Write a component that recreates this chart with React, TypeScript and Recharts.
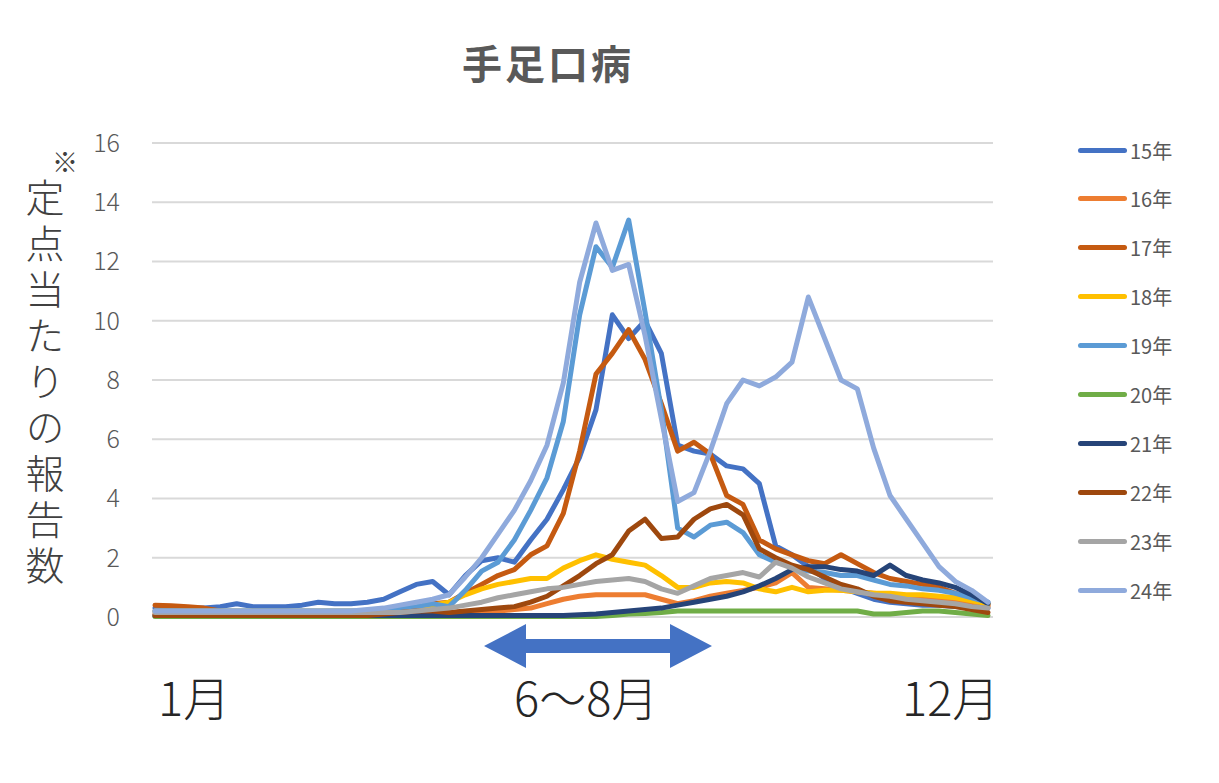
import React from "react";
import { CartesianGrid, Line, LineChart, XAxis, YAxis } from "recharts";

// weekly reports per sentinel site, 52 weeks each
const s15 = [0.3, 0.3, 0.3, 0.3, 0.35, 0.45, 0.35, 0.35, 0.35, 0.4, 0.5, 0.45, 0.45, 0.5, 0.6, 0.85, 1.1, 1.2, 0.75, 1.4, 1.9, 2.0, 1.85, 2.6, 3.3, 4.3, 5.4, 7.0, 10.2, 9.4, 10.0, 8.9, 5.8, 5.6, 5.5, 5.1, 5.0, 4.5, 2.4, 2.1, 1.7, 1.3, 1.0, 0.8, 0.6, 0.5, 0.45, 0.4, 0.4, 0.35, 0.3, 0.3];
const s16 = [0.1, 0.1, 0.1, 0.1, 0.1, 0.1, 0.1, 0.1, 0.1, 0.1, 0.1, 0.1, 0.1, 0.1, 0.1, 0.15, 0.15, 0.15, 0.15, 0.15, 0.2, 0.2, 0.25, 0.3, 0.45, 0.6, 0.7, 0.75, 0.75, 0.75, 0.75, 0.6, 0.45, 0.55, 0.7, 0.8, 0.9, 1.0, 1.15, 1.5, 1.0, 0.95, 0.9, 0.85, 0.8, 0.75, 0.7, 0.65, 0.6, 0.55, 0.45, 0.35];
const s17 = [0.4, 0.38, 0.35, 0.3, 0.2, 0.15, 0.15, 0.15, 0.15, 0.15, 0.15, 0.15, 0.15, 0.1, 0.15, 0.2, 0.3, 0.45, 0.5, 0.8, 1.1, 1.4, 1.6, 2.1, 2.4, 3.5, 5.6, 8.2, 8.9, 9.7, 8.7, 7.2, 5.6, 5.9, 5.5, 4.1, 3.8, 2.6, 2.3, 2.1, 1.9, 1.8, 2.1, 1.8, 1.5, 1.3, 1.2, 1.1, 1.0, 0.8, 0.6, 0.4];
const s18 = [0.2, 0.2, 0.2, 0.2, 0.2, 0.2, 0.2, 0.2, 0.2, 0.2, 0.2, 0.2, 0.2, 0.2, 0.2, 0.25, 0.3, 0.4, 0.5, 0.75, 0.95, 1.1, 1.2, 1.3, 1.3, 1.65, 1.9, 2.1, 1.95, 1.85, 1.75, 1.4, 1.0, 1.0, 1.15, 1.2, 1.15, 0.95, 0.85, 1.0, 0.85, 0.9, 0.9, 0.85, 0.8, 0.8, 0.75, 0.75, 0.7, 0.65, 0.55, 0.45];
const s19 = [0.2, 0.2, 0.2, 0.2, 0.2, 0.2, 0.2, 0.2, 0.2, 0.2, 0.2, 0.2, 0.2, 0.2, 0.25, 0.3, 0.35, 0.45, 0.35, 0.9, 1.55, 1.85, 2.6, 3.6, 4.7, 6.6, 10.2, 12.5, 11.8, 13.4, 10.3, 7.0, 3.0, 2.7, 3.1, 3.2, 2.85, 2.1, 1.85, 1.7, 1.55, 1.5, 1.4, 1.4, 1.25, 1.1, 1.05, 0.95, 0.9, 0.8, 0.65, 0.5];
const s20 = [0.02, 0.02, 0.02, 0.02, 0.02, 0.02, 0.02, 0.02, 0.02, 0.02, 0.02, 0.02, 0.02, 0.02, 0.02, 0.02, 0.02, 0.02, 0.02, 0.02, 0.02, 0.02, 0.02, 0.02, 0.02, 0.02, 0.02, 0.02, 0.05, 0.1, 0.12, 0.15, 0.2, 0.2, 0.2, 0.2, 0.2, 0.2, 0.2, 0.2, 0.2, 0.2, 0.2, 0.2, 0.1, 0.1, 0.15, 0.2, 0.2, 0.15, 0.1, 0.05];
const s21 = [0.05, 0.05, 0.05, 0.05, 0.05, 0.05, 0.05, 0.05, 0.05, 0.05, 0.05, 0.05, 0.05, 0.05, 0.05, 0.05, 0.05, 0.05, 0.05, 0.05, 0.05, 0.05, 0.05, 0.05, 0.05, 0.05, 0.08, 0.1, 0.15, 0.2, 0.25, 0.3, 0.4, 0.5, 0.6, 0.7, 0.85, 1.05, 1.3, 1.6, 1.7, 1.7, 1.6, 1.55, 1.4, 1.75, 1.4, 1.25, 1.15, 1.0, 0.75, 0.45];
const s22 = [0.05, 0.05, 0.05, 0.05, 0.05, 0.05, 0.05, 0.05, 0.05, 0.05, 0.05, 0.05, 0.05, 0.05, 0.1, 0.15, 0.2, 0.2, 0.15, 0.2, 0.25, 0.3, 0.35, 0.5, 0.7, 1.05, 1.4, 1.8, 2.1, 2.9, 3.3, 2.65, 2.7, 3.3, 3.65, 3.8, 3.45, 2.3, 2.0, 1.75, 1.6, 1.35, 1.1, 0.95, 0.7, 0.55, 0.5, 0.45, 0.4, 0.35, 0.25, 0.15];
const s23 = [0.15, 0.15, 0.15, 0.15, 0.15, 0.15, 0.15, 0.15, 0.15, 0.15, 0.15, 0.15, 0.15, 0.15, 0.15, 0.15, 0.2, 0.25, 0.3, 0.4, 0.5, 0.65, 0.75, 0.85, 0.95, 1.0, 1.1, 1.2, 1.25, 1.3, 1.2, 0.95, 0.8, 1.05, 1.3, 1.4, 1.5, 1.35, 1.85, 1.65, 1.35, 1.15, 0.95, 0.85, 0.75, 0.7, 0.6, 0.55, 0.5, 0.45, 0.35, 0.3];
const s24 = [0.2, 0.2, 0.2, 0.2, 0.2, 0.2, 0.2, 0.2, 0.2, 0.2, 0.2, 0.2, 0.2, 0.25, 0.3, 0.4, 0.5, 0.6, 0.75, 1.35, 2.0, 2.8, 3.6, 4.6, 5.8, 7.9, 11.3, 13.3, 11.7, 11.9, 9.5, 6.7, 3.9, 4.2, 5.6, 7.2, 8.0, 7.8, 8.1, 8.6, 10.8, 9.4, 8.0, 7.7, 5.7, 4.1, 3.3, 2.5, 1.7, 1.2, 0.9, 0.5];

const seriesNames = ["15年", "16年", "17年", "18年", "19年", "20年", "21年", "22年", "23年", "24年"];
const seriesValues = [s15, s16, s17, s18, s19, s20, s21, s22, s23, s24];
const colors = ["#4472C4", "#ED7D31", "#C55A11", "#FFC000", "#5B9BD5", "#70AD47", "#264478", "#9E480E", "#A5A5A5", "#8FAADC"];
const yTicks = [0, 2, 4, 6, 8, 10, 12, 14, 16];
const monthLabels = ["1月", "6〜8月", "12月"];

const data = s15.map((_, i) => {
  const row: Record<string, number> = { week: i };
  seriesNames.forEach((name, k) => {
    row[name] = seriesValues[k][i];
  });
  return row;
});

const jp = '"Noto Sans CJK JP", "Noto Sans", sans-serif';
const gray = "#595959";

export default function App() {
  return (
    <div style={{ position: "absolute", left: 0, top: 0, width: 1219, height: 783, background: "#fff", fontFamily: jp }}>
      <LineChart
        width={1219}
        height={783}
        data={data}
        margin={{ top: 143, right: 226, bottom: 166, left: 92 }}
      >
        <CartesianGrid vertical={false} stroke="#d9d9d9" strokeWidth={2} />
        <XAxis dataKey="week" type="number" domain={[0, 51]} hide padding={{ left: 3, right: 5 }} />
        <YAxis
          domain={[0, 16]}
          ticks={yTicks}
          width={60}
          axisLine={false}
          tickLine={false}
          tickSize={0}
          tickMargin={32}
          tick={{ fill: gray, fontSize: 25, fontFamily: jp, fontWeight: 300 }}
          interval={0}
        />
        {seriesNames.map((name, k) => (
          <Line
            key={name}
            dataKey={name}
            stroke={colors[k]}
            strokeWidth={5}
            dot={false}
            isAnimationActive={false}
            strokeLinejoin="round"
            strokeLinecap="round"
          />
        ))}
      </LineChart>

      <div style={{ position: "absolute", left: 348, width: 400, top: 34, textAlign: "center", fontSize: 40, fontWeight: 700, color: gray, letterSpacing: 3, lineHeight: "56px" }}>
        手足口病
      </div>

      <div style={{ position: "absolute", left: 52, top: 146, fontSize: 26, color: "#404040", lineHeight: "30px", fontWeight: 300 }}>※</div>
      <div style={{ position: "absolute", left: 23, top: 178, writingMode: "vertical-rl", fontSize: 39, letterSpacing: 7, color: "#404040", lineHeight: "44px", fontWeight: 300 }}>
        定点当たりの報告数
      </div>

      <svg style={{ position: "absolute", left: 0, top: 0 }} width={1219} height={783}>
        <polygon points="484,646 526,624 526,639 670,639 670,624 712,646 670,668 670,653 526,653 526,668" fill="#4472C4" />
      </svg>

      <div style={{ position: "absolute", left: 158, top: 664, fontSize: 47, color: "#262626", lineHeight: "64px", fontWeight: 300 }}>{monthLabels[0]}</div>
      <div style={{ position: "absolute", left: 514, top: 664, fontSize: 47, color: "#262626", lineHeight: "64px", fontWeight: 300 }}>{monthLabels[1]}</div>
      <div style={{ position: "absolute", left: 902, top: 664, fontSize: 47, color: "#262626", lineHeight: "64px", fontWeight: 300 }}>{monthLabels[2]}</div>

      {seriesNames.map((name, k) => (
        <div key={name} style={{ position: "absolute", left: 1078, top: 150 + k * 48.9 - 14, height: 28, display: "flex", alignItems: "center" }}>
          <div style={{ width: 49, height: 5, borderRadius: 3, background: colors[k] }} />
          <span style={{ marginLeft: 3, fontSize: 20, color: gray }}>{name}</span>
        </div>
      ))}
    </div>
  );
}
